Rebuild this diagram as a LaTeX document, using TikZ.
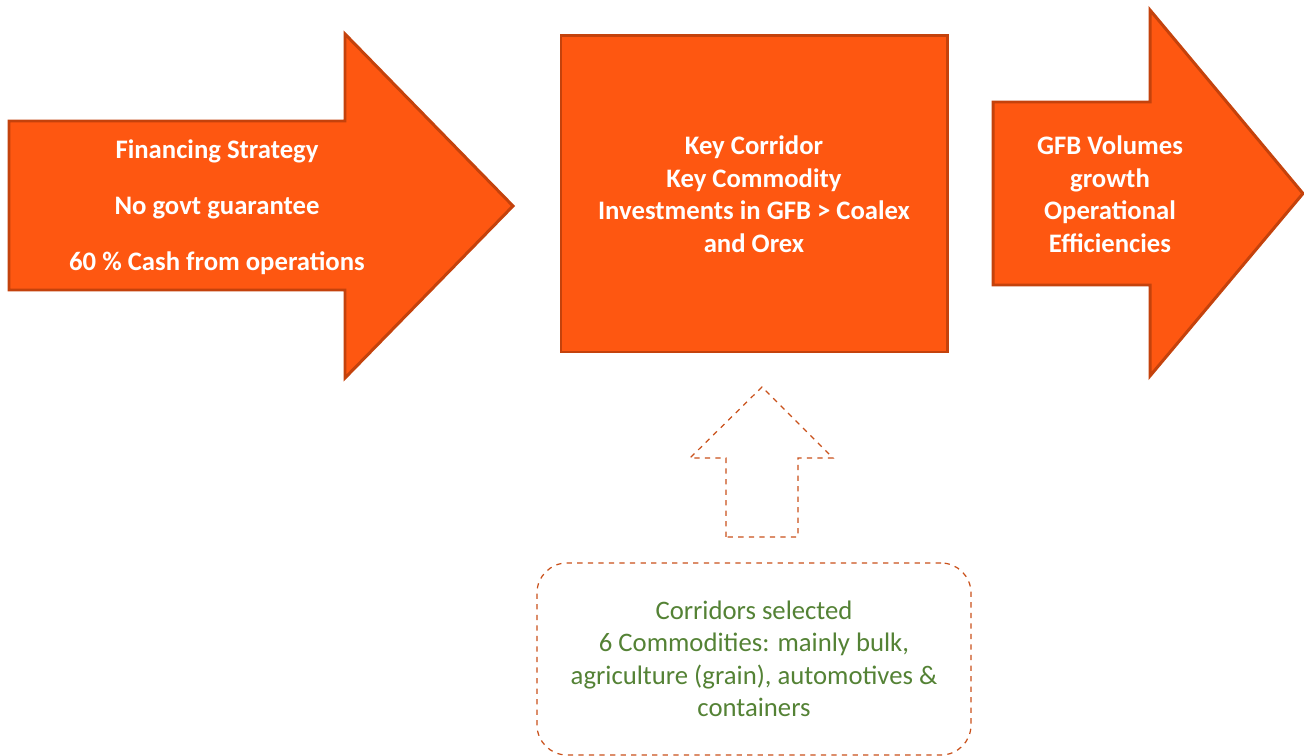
\documentclass[tikz,border=0pt]{standalone}
\usepackage{fontspec}
\setmainfont{Carlito}
\usepackage{tikz}
\usetikzlibrary{positioning}
\definecolor{orfill}{HTML}{FE5711}
\definecolor{ordraw}{HTML}{C4420C}
\definecolor{ordash}{HTML}{C9501A}
\definecolor{txgreen}{HTML}{548235}

\begin{document}
\begin{tikzpicture}[font=\fontsize{15.2}{18.5}\selectfont,
    blk/.style={draw=ordraw, fill=orfill, line width=1.7pt},
    lbl/.style={text=white, font=\fontsize{15.2}{18.5}\selectfont\bfseries, align=center},
    dsh/.style={draw=ordash, dashed, line width=0.7pt}]
  \useasboundingbox (0,0) rectangle (26.08,15.12);
  % financing arrow
  \draw[blk] (0.18,12.70) -- (6.90,12.70) -- (6.90,14.44) -- (10.26,11.00)
    -- (6.90,7.56) -- (6.90,9.32) -- (0.18,9.32) -- cycle;
  \node[lbl] (fin) at (4.34,10.98) {Financing Strategy\\[13.4pt] No govt guarantee\\[13.4pt] 60 \% Cash from operations};
  % key corridor box
  \node[blk, minimum width=7.72cm, minimum height=6.32cm] (key) at (15.08,11.24) {};
  \node[lbl] (keytxt) at (key.center) {Key Corridor\\ Key Commodity\\ Investments in GFB > Coalex\\ and Orex};
  % outcome arrow
  \draw[blk] (19.86,13.08) -- (23.00,13.08) -- (23.00,14.92) -- (26.06,11.25)
    -- (23.00,7.60) -- (23.00,9.42) -- (19.86,9.42) -- cycle;
  \node[lbl] (gfb) at (22.20,11.24) {GFB Volumes\\ growth\\ Operational\\ Efficiencies};
  % selection box and dashed up arrow
  \node[dsh, rounded corners=0.6cm, minimum width=8.68cm, minimum height=3.84cm,
    align=center, text=txgreen] (sel) at (15.08,1.94)
    {Corridors selected\\ 6 Commodities: mainly bulk,\\ agriculture (grain), automotives \&\\ containers};
  \draw[dsh] (14.52,4.38) -- (14.52,5.96) -- (13.80,5.96) -- (15.24,7.38)
    -- (16.66,5.96) -- (15.96,5.96) -- (15.96,4.38) -- cycle;
\end{tikzpicture}
\end{document}
